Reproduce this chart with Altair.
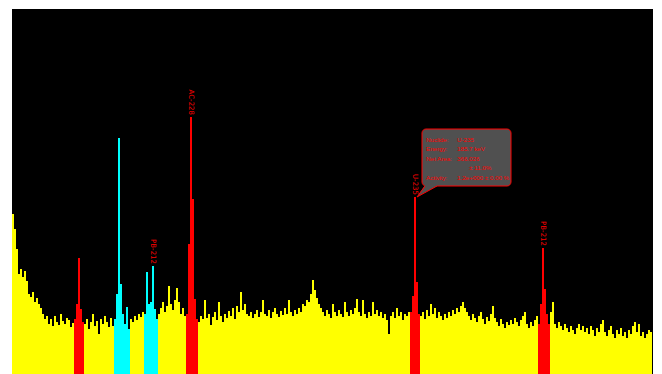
import altair as alt
import pandas as pd

# Spectrum counts per channel
counts = [
    160, 145, 125, 100, 105, 97, 103, 93, 80, 77, 82, 72, 76, 70, 66, 60, 55, 58, 50, 55,
    48, 58, 52, 49, 60, 53, 50, 56, 54, 47, 51,
    55, 70, 116, 65, 52,
    50, 55, 45, 52, 60, 48, 53, 40, 55, 50, 58, 52, 47, 56, 48,
    55, 80, 236, 90, 60, 50, 67, 45,
    55, 52, 58, 54, 60, 57, 62,
    60, 102, 70, 72, 108, 65, 55,
    60, 66, 72, 62, 68, 88, 70, 64, 74, 86, 72, 60, 66, 58,
    60, 130, 257, 175, 75, 55,
    52, 58, 55, 74, 56, 60, 49, 57, 62, 54,
    72, 58, 52, 60, 56, 63, 58, 66, 55, 68,
    62, 82, 64, 70, 60, 58, 62, 56, 60, 64,
    57, 62, 74, 60, 58, 64, 56, 62, 66, 60,
    57, 63, 59, 66, 60, 74, 62, 58, 64, 60,
    66, 62, 70, 68, 74, 72, 80, 94, 84, 76,
    70, 66, 62, 58, 64, 60, 56, 70, 62, 58,
    64, 60, 57, 72, 62, 58, 64, 60, 66, 75,
    62, 58, 74, 60, 56, 62, 58, 72, 60, 64,
    58, 62, 56, 60, 54, 40, 58, 62, 56, 66,
    58, 62, 54, 60, 58, 62,
    62, 78, 177, 92, 60,
    58, 62, 55, 64, 58, 70, 60, 66, 56, 62,
    58, 54, 60, 56, 62, 58, 64, 60, 66, 62,
    68, 72, 66, 62, 58, 54, 60, 56, 52, 58,
    62, 55, 50, 57, 53, 60, 68, 56, 52, 48,
    55, 50, 46, 52, 49, 54, 50, 56, 52, 48,
    54, 58, 62, 50, 46, 52, 48, 54, 58,
    50, 70, 126, 85, 60, 50,
    62, 72, 50, 46, 52, 48, 44, 50, 46, 42,
    48, 44, 40, 46, 50, 44, 48, 42, 46, 40,
    48, 44, 38, 46, 42, 50, 54, 42, 38, 44,
    48, 40, 36, 44, 40, 46, 38, 42, 36, 44,
    40, 48, 52, 42, 50, 38, 42, 36, 40, 44, 42,
]

# Regions of interest
roi_start = [31, 51, 66, 87, 199, 263]
roi_end = [35, 58, 72, 92, 203, 268]
roi_kind = ["red", "cyan", "cyan", "red", "red", "red"]

# Peak labels
label_text = ["AC-228", "PB-212", "U-235", "PB-212"]
label_bin = [89, 70, 201, 265]

# Callout for selected peak
tip_bin = 201
tip_names = ["Nuclide:", "Energy:", "Net Area:", "Activity:"]
tip_values = ["U-235", "185.7 keV", "366.026", "1.2e+000 ± 0.00 %"]
tip_rows = [57, 48, 38, 19]
tip_extra = "± 11.0%"
tip_extra_row = 29

n = len(counts)
kind = ["bg"] * n
for s, e, k in zip(roi_start, roi_end, roi_kind):
    for i in range(s, e + 1):
        kind[i] = k

df = pd.DataFrame({
    "ch": list(range(n)),
    "ch2": [i + 1 for i in range(n)],
    "counts": counts,
    "base": [0] * n,
    "roi": kind,
})

XS = alt.Scale(domain=[0, 320.5], nice=False, zero=False)
YS = alt.Scale(domain=[0, 365], nice=False, zero=False)

bars = alt.Chart(df).mark_rect(strokeWidth=0).encode(
    x=alt.X("ch:Q", scale=XS, axis=None),
    x2="ch2:Q",
    y=alt.Y("counts:Q", scale=YS, axis=None),
    y2="base:Q",
    color=alt.Color("roi:N", legend=None,
                    scale=alt.Scale(domain=["bg", "red", "cyan"],
                                    range=["#ffff00", "#ff0000", "#00ffff"])),
)

ldf = pd.DataFrame({
    "x": [b + 0.5 for b in label_bin],
    "y": [counts[b] + 2 for b in label_bin],
    "t": label_text,
})
labels = alt.Chart(ldf).mark_text(
    angle=90, align="right", baseline="middle", fontSize=7,
    font="DejaVu Sans", color="#ff0000"
).encode(x=alt.X("x:Q", scale=XS), y=alt.Y("y:Q", scale=YS), text="t:N")

px = tip_bin + 0.5
py = counts[tip_bin]

box_df = pd.DataFrame({"x": [px + 3.5], "x2": [px + 48], "y": [py + 68], "y2": [py + 11]})
box = alt.Chart(box_df).mark_rect(
    cornerRadius=4, fill="#505050", stroke="#ff0000", strokeWidth=1
).encode(x=alt.X("x:Q", scale=XS), x2="x2:Q", y=alt.Y("y:Q", scale=YS), y2="y2:Q")

tail_df = pd.DataFrame({
    "x": [px + 1, px + 5, px + 11],
    "y": [py, py + 12, py + 12],
    "y2": [py, py + 11 * 4 / 10, py + 11],
})
tail = alt.Chart(tail_df).mark_area(fill="#505050", interpolate="linear").encode(
    x=alt.X("x:Q", scale=XS), y=alt.Y("y:Q", scale=YS), y2="y2:Q")

edge_df = pd.DataFrame({
    "x": [px + 1, px + 5, px + 1, px + 11],
    "y": [py, py + 11, py, py + 11],
    "e": ["a", "a", "b", "b"],
})
edges = alt.Chart(edge_df).mark_line(color="#ff0000", strokeWidth=1).encode(
    x=alt.X("x:Q", scale=XS), y=alt.Y("y:Q", scale=YS), detail="e:N")

tdf = pd.DataFrame({
    "x1": [px + 5.5] * len(tip_names),
    "x2": [px + 21] * len(tip_names),
    "y": [py + r for r in tip_rows],
    "n": tip_names,
    "v": tip_values,
})
FONT = "Liberation Sans"
FS = 6.2
tnames = alt.Chart(tdf).mark_text(align="left", baseline="middle", fontSize=FS,
                                  font=FONT, color="#ff0000").encode(
    x=alt.X("x1:Q", scale=XS), y=alt.Y("y:Q", scale=YS), text="n:N")
tvals = alt.Chart(tdf).mark_text(align="left", baseline="middle", fontSize=FS,
                                 font=FONT, color="#ff0000").encode(
    x=alt.X("x2:Q", scale=XS), y=alt.Y("y:Q", scale=YS), text="v:N")
xdf = pd.DataFrame({"x": [px + 27], "y": [py + tip_extra_row], "t": [tip_extra]})
textra = alt.Chart(xdf).mark_text(align="left", baseline="middle", fontSize=FS,
                                  font=FONT, color="#ff0000").encode(
    x=alt.X("x:Q", scale=XS), y=alt.Y("y:Q", scale=YS), text="t:N")

chart = alt.layer(bars, labels, box, tail, edges, tnames, tvals, textra).properties(
    width=641, height=365,
    padding={"left": 4, "top": 1, "right": 0, "bottom": 0},
    autosize="none",
    background="white",
).configure_view(fill="black", strokeWidth=0)

chart.save("out.html", embed_options={"renderer": "svg", "actions": False})
